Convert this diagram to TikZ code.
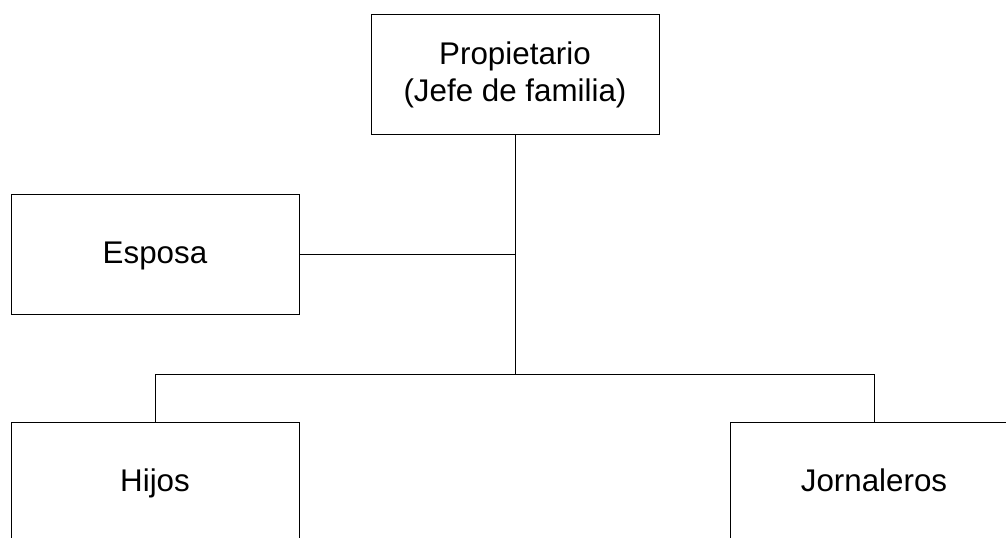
\documentclass[tikz,border=0pt]{standalone}
\usepackage{fontspec}
\setmainfont{Liberation Sans}
\usepackage{tikz}

\tikzset{
	caja/.style={draw, line width=0.75pt, minimum width=216pt, minimum height=90pt,
		inner sep=0pt, align=center, text height=17pt, text depth=3.5pt,
		font=\fontsize{23.5}{28}\selectfont},
	linea/.style={line width=0.75pt}
}

\begin{document}
\begin{tikzpicture}[x=0.75pt, y=-0.75pt]
	\useasboundingbox (0,0) rectangle (1006,537);
	
	% Jefe de familia arriba
	\node[caja, text height=45pt] (prop) at (515,74) {Propietario\\(Jefe de familia)};
	
	% Esposa a la izquierda
	\node[caja] (esposa) at (155,254) {Esposa};
	
	% Hijos y jornaleros abajo
	\node[caja] (hijos) at (155,482) {Hijos};
	\node[caja] (jornal) at (874,482) {Jornaleros};
	
	% Lineas de union
	\coordinate (split) at (515,374);
	\draw[linea] (prop.south) -- (split);
	\draw[linea] (esposa.east) -- (esposa.east -| split);
	\draw[linea] (hijos.north) |- (split) -| (jornal.north);
\end{tikzpicture}
\end{document}
